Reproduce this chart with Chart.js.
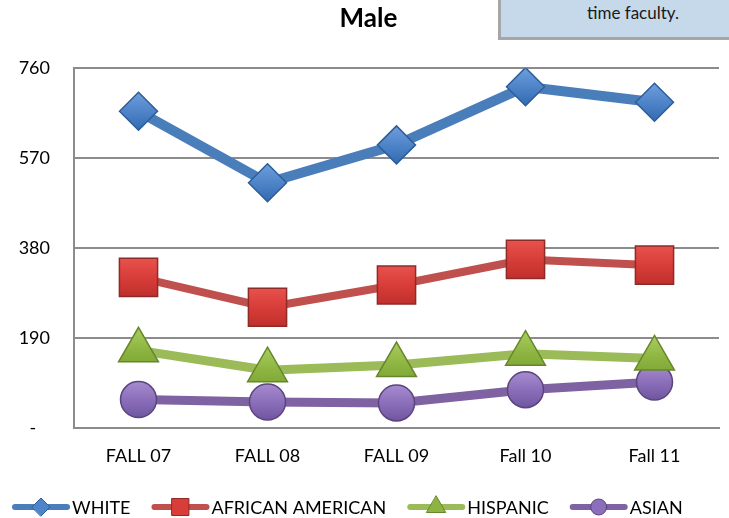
<!DOCTYPE html>
<html><head><meta charset="utf-8">
<script src="https://cdn.jsdelivr.net/npm/chart.js@4"></script>
<style>
html,body{margin:0;padding:0;background:#fff;}
#wrap{position:relative;width:729px;height:518px;overflow:hidden;}
#note{position:absolute;left:498px;top:-3px;width:267px;height:43px;background:#c6d9ea;border-left:3px solid #a6a6a6;border-bottom:3px solid #a6a6a6;font:17px Lato, sans-serif;color:#1a1a1a;text-align:center;line-height:1;padding-top:7px;box-sizing:border-box}
</style></head><body>
<div id="wrap"><canvas id="c" width="729" height="518"></canvas><div id="note">time faculty.</div></div>
<script>
const categories = ['FALL 07','FALL 08','FALL 09','Fall 10','Fall 11'];
const seriesNames = ['WHITE','AFRICAN AMERICAN','HISPANIC','ASIAN'];
const white = [669, 518, 598, 721, 688];
const africanAmerican = [318, 255, 302, 356, 344];
const hispanic = [164, 122, 133, 157, 147];
const asian = [60, 55, 53, 81, 97];
const yTickValues = [0, 190, 380, 570, 760];

const FONT = 'Lato, "Open Sans", sans-serif';

function bevel(light, mid, dark, radius) {
  return function (context) {
    const chart = context.chart;
    if (!chart.scales || !chart.scales.y || !context.parsed) return mid;
    const cy = chart.scales.y.getPixelForValue(context.parsed.y);
    if (!isFinite(cy)) return mid;
    const g = chart.ctx.createLinearGradient(0, cy - radius, 0, cy + radius);
    g.addColorStop(0, light);
    g.addColorStop(0.5, mid);
    g.addColorStop(1, dark);
    return g;
  };
}

function ds(label, data, line, colors, border, style, radius, width) {
  return {
    label, data,
    borderColor: line, backgroundColor: colors[1],
    borderWidth: width,
    pointStyle: style, pointRadius: radius, pointHoverRadius: radius,
    pointBackgroundColor: bevel(colors[0], colors[1], colors[2], radius),
    legendFill: colors[1],
    pointBorderColor: border, pointBorderWidth: 1.5,
    tension: 0, borderJoinStyle: 'round', borderCapStyle: 'round'
  };
}

const legendPlugin = {
  id: 'customLegend',
  afterDraw(chart) {
    const ctx = chart.ctx;
    const y = 507;
    let x = 12;
    ctx.save();
    ctx.font = '18px ' + FONT;
    ctx.textBaseline = 'middle';
    ctx.textAlign = 'left';
    const sizes = {rectRot: 9, rect: 12, triangle: 11, circle: 8};
    chart.data.datasets.forEach(d => {
      ctx.strokeStyle = d.borderColor;
      ctx.lineWidth = 6;
      ctx.lineCap = 'round';
      ctx.beginPath(); ctx.moveTo(x + 3, y); ctx.lineTo(x + 55, y); ctx.stroke();
      ctx.fillStyle = d.legendFill;
      ctx.strokeStyle = d.pointBorderColor;
      ctx.lineWidth = 1;
      Chart.helpers.drawPoint(ctx, {pointStyle: d.pointStyle, radius: sizes[d.pointStyle], rotation: 0, borderWidth: 1}, x + 29, y);
      ctx.fillStyle = '#000';
      ctx.fillText(d.label, x + 60, y + 1);
      x += 60 + ctx.measureText(d.label).width + 21;
    });
    ctx.restore();
  }
};

new Chart(document.getElementById('c'), {
  type: 'line',
  data: {
    labels: categories,
    datasets: [
      ds(seriesNames[0], white, '#4a7ebb', ['#6f9fdc', '#4f84c9', '#336bb0'], '#2d5e99', 'rectRot', 19, 10),
      ds(seriesNames[1], africanAmerican, '#c0504d', ['#ee5a55', '#d83d39', '#b52a27'], '#8e2b28', 'rect', 27, 8),
      ds(seriesNames[2], hispanic, '#9bbb59', ['#a9cd5e', '#8db441', '#76a02e'], '#66862b', 'triangle', 23, 9),
      ds(seriesNames[3], asian, '#7f62a1', ['#a68bd0', '#8c6fba', '#6f55a0'], '#5b457c', 'circle', 18, 9)
    ]
  },
  options: {
    responsive: false,
    animation: false,
    layout: {autoPadding: false, padding: {left: 18, right: 10, top: 0, bottom: 0}},
    plugins: {
      legend: {display: false},
      tooltip: {enabled: false},
      title: {
        display: true, text: 'Male', color: '#000',
        font: {family: FONT, size: 26, weight: 'bold'},
        padding: {top: 3, bottom: 34}
      }
    },
    scales: {
      x: {
        offset: true,
        grid: {display: false, drawTicks: false},
        border: {display: true, color: '#8c8c8c', width: 2},
        ticks: {color: '#000', font: {family: FONT, size: 18}, padding: 17, maxRotation: 0},
        afterFit(s) { s.height = 90; }
      },
      y: {
        min: 0, max: 760,
        afterBuildTicks(s) { s.ticks = yTickValues.map(v => ({value: v})); },
        grid: {color: '#8c8c8c', lineWidth: 2, drawTicks: false},
        border: {display: true, color: '#8c8c8c', width: 2},
        ticks: {
          color: '#000', font: {family: FONT, size: 18}, padding: 24,
          callback: v => v === 0 ? '-   ' : String(v)
        },
        afterFit(s) { s.width = 56; }
      }
    }
  },
  plugins: [legendPlugin]
});
</script>
</body></html>
